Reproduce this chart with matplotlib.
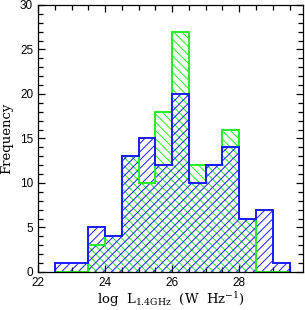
import numpy as np
import matplotlib
matplotlib.use('Agg')
import matplotlib.pyplot as plt
from matplotlib.ticker import MultipleLocator

# bin edges in log L(1.4GHz), 0.5 dex bins
edges = np.arange(22.5, 30.0, 0.5)
blue_counts = [1, 1, 5, 4, 13, 15, 12, 20, 10, 12, 14, 6, 7, 1]
green_counts = [0, 0, 3, 4, 13, 10, 18, 27, 12, 12, 16, 6, 0, 0]

blue = '#1a1aff'
green = '#22ee22'

plt.rcParams['hatch.linewidth'] = 0.7
plt.rcParams['mathtext.fontset'] = 'dejavuserif'

fig = plt.figure(figsize=(3.05, 3.10), dpi=100)
ax = fig.add_axes([0.1246, 0.1226, 0.8688, 0.8613])

# hatched fills (green under blue), then outlines
ax.stairs(green_counts, edges, fill=True, facecolor='none', edgecolor=green,
          hatch='\\\\\\\\', linewidth=0, zorder=1)
ax.stairs(blue_counts, edges, fill=True, facecolor='none', edgecolor=blue,
          hatch='////', linewidth=0, zorder=2)
ax.stairs(green_counts, edges, baseline=0, color=green, linewidth=1.4, zorder=3)
ax.stairs(blue_counts, edges, baseline=0, color=blue, linewidth=1.4, zorder=4)

ax.set_xlim(22, 29.9)
ax.set_ylim(0, 30)
ax.xaxis.set_major_locator(MultipleLocator(2))
ax.xaxis.set_minor_locator(MultipleLocator(0.5))
ax.yaxis.set_major_locator(MultipleLocator(5))
ax.yaxis.set_minor_locator(MultipleLocator(1))
ax.tick_params(which='both', direction='in', top=True, right=True,
               labelsize=8.5, width=0.9)
ax.tick_params(which='major', length=5)
ax.tick_params(which='minor', length=3.5)
for lab in ax.get_xticklabels() + ax.get_yticklabels():
    lab.set_family('Liberation Sans')
for s in ax.spines.values():
    s.set_linewidth(0.9)
    s.set_zorder(5)

ax.set_xlabel(r'log  L$_{\rm 1.4GHz}$  (W  Hz$^{-1}$)', family='DejaVu Serif',
              fontsize=9.5, labelpad=1)
ax.set_ylabel('Frequency', family='DejaVu Serif', fontsize=9.5, labelpad=5)

fig.savefig('out.png', dpi=100)
